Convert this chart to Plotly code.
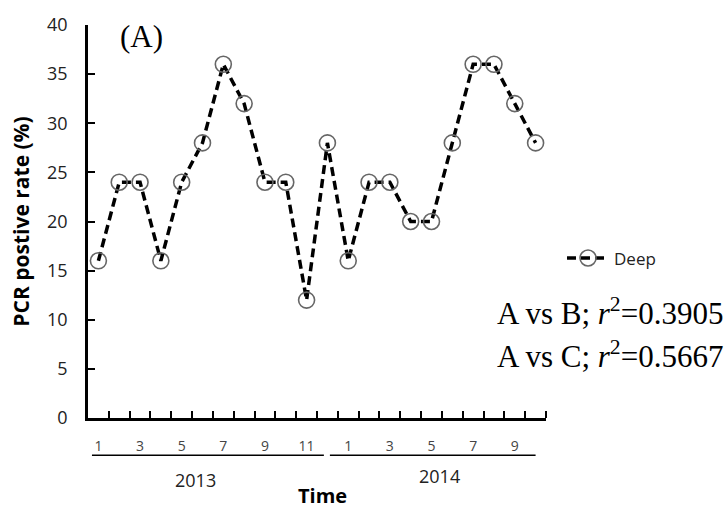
import plotly.graph_objects as go

# Data
months_2013 = [1, 2, 3, 4, 5, 6, 7, 8, 9, 10, 11, 12]
months_2014 = [1, 2, 3, 4, 5, 6, 7, 8, 9, 10]
deep_2013 = [16, 24, 24, 16, 24, 28, 36, 32, 24, 24, 12, 28]
deep_2014 = [16, 24, 24, 20, 20, 28, 36, 36, 32, 28]
series_name = "Deep"
year_labels = ["2013", "2014"]
y_ticks = [0, 5, 10, 15, 20, 25, 30, 35, 40]

values = deep_2013 + deep_2014
n = len(values)
xpos = list(range(1, n + 1))
month_labels = [str(m) for m in months_2013] + [str(m) for m in months_2014]
label_idx = [i for i in range(n) if (i < 12 and months_2013[i] % 2 == 1) or (i >= 12 and months_2014[i - 12] % 2 == 1)]

fig = go.Figure()
fig.add_trace(go.Scatter(
    x=xpos, y=values, name=series_name, mode="lines+markers",
    line=dict(color="black", width=3.5, dash="9px,5px"),
    marker=dict(symbol="circle-open", size=16, color="#666666", line=dict(width=1.6, color="#666666")),
))

sans = "Open Sans"
fig.update_layout(
    width=725, height=510,
    margin=dict(l=88, r=179, t=17, b=92),
    plot_bgcolor="white", paper_bgcolor="white",
    showlegend=True,
    legend=dict(x=1.035, y=0.406, xanchor="left", yanchor="middle",
                font=dict(family=sans, size=17, color="#222"), itemwidth=42,
                bgcolor="rgba(0,0,0,0)"),
    xaxis=dict(
        range=[0.5, n + 0.5], showgrid=False, zeroline=False,
        showline=True, linecolor="black", linewidth=2.5,
        tickvals=[xpos[i] for i in label_idx],
        ticktext=[month_labels[i] for i in label_idx],
        ticks="", ticklabelstandoff=13,
        tickfont=dict(family=sans, size=14, color="#444"),
        minor=dict(tickvals=[i + 0.5 for i in range(1, n + 1)], ticks="inside",
                   ticklen=7, tickwidth=2, tickcolor="black"),
    ),
    yaxis=dict(
        range=[0, 40], showgrid=False, zeroline=False,
        showline=True, linecolor="black", linewidth=2.5,
        tickvals=y_ticks, ticks="inside", ticklen=7, tickwidth=2, tickcolor="black",
        ticklabelstandoff=14,
        tickfont=dict(family=sans, size=18, color="#222"),
        title=dict(text="<b>PCR postive rate (%)</b>", font=dict(family=sans, size=21, color="black"), standoff=12),
    ),
)

# Year underline segments and labels
fig.add_shape(type="line", xref="x", yref="paper", x0=0.69, x1=11.83, y0=-0.095, y1=-0.095,
              line=dict(color="black", width=1.5))
fig.add_shape(type="line", xref="x", yref="paper", x0=12.12, x1=22.0, y0=-0.095, y1=-0.095,
              line=dict(color="black", width=1.5))
fig.add_annotation(text=year_labels[0], xref="x", yref="paper", x=5.64, y=-0.158, showarrow=False,
                   xanchor="center", yanchor="middle", font=dict(family=sans, size=18, color="#222"))
fig.add_annotation(text=year_labels[1], xref="x", yref="paper", x=17.4, y=-0.148, showarrow=False,
                   xanchor="center", yanchor="middle", font=dict(family=sans, size=18, color="#222"))
fig.add_annotation(text="<b>Time</b>", xref="paper", yref="paper", x=0.511, y=-0.197, showarrow=False,
                   xanchor="center", yanchor="middle", font=dict(family=sans, size=20, color="black"))

serif = "Liberation Serif"
fig.add_annotation(text="(A)", xref="paper", yref="paper", x=(141 - 88) / 458, y=(418 - 29) / 401,
                   xanchor="center", yanchor="middle",
                   showarrow=False, font=dict(family=serif, size=31, color="black"))
fig.add_annotation(text="A vs B; <i>r</i><sup>2</sup>=0.3905", xref="paper", yref="paper",
                   x=(725 - 88) / 458, xanchor="right", y=(418 - 309) / 401, yanchor="middle", showarrow=False,
                   font=dict(family=serif, size=31, color="black"))
fig.add_annotation(text="A vs C; <i>r</i><sup>2</sup>=0.5667", xref="paper", yref="paper",
                   x=(725 - 88) / 458, xanchor="right", y=(418 - 353) / 401, yanchor="middle", showarrow=False,
                   font=dict(family=serif, size=31, color="black"))

fig.write_html("out.html")
